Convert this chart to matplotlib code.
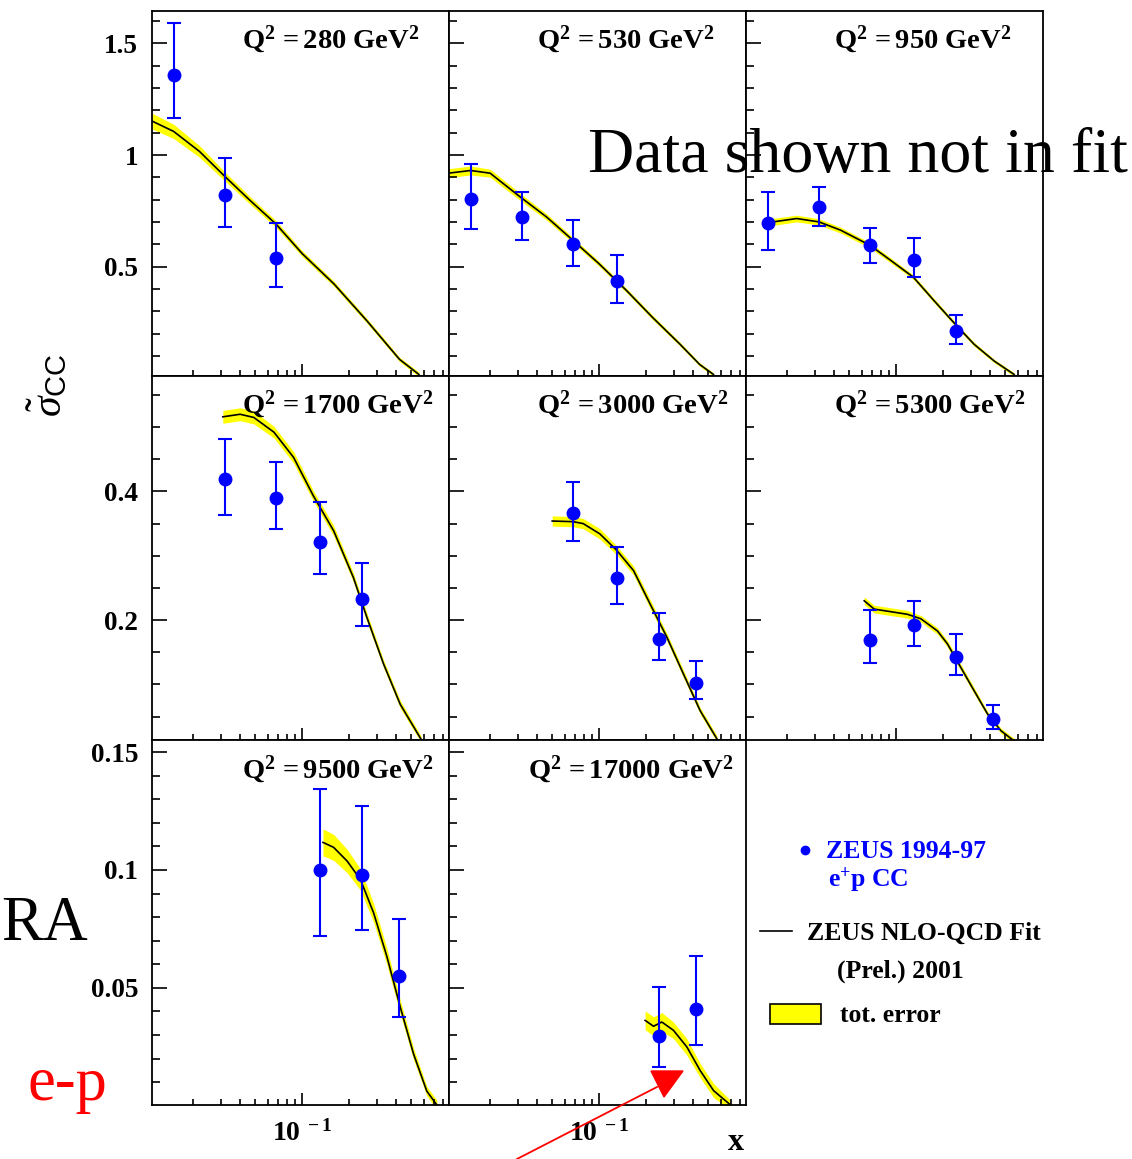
import numpy as np
import matplotlib
matplotlib.use("Agg")
import matplotlib.pyplot as plt
from matplotlib.ticker import MultipleLocator, FixedLocator, LogLocator, FuncFormatter, NullFormatter
from matplotlib.patches import Polygon, Rectangle
from matplotlib.lines import Line2D

plt.rcParams["font.family"] = ["Liberation Serif", "DejaVu Serif"]
plt.rcParams["mathtext.fontset"] = "custom"
plt.rcParams["mathtext.rm"] = "Liberation Serif"
plt.rcParams["mathtext.bf"] = "Liberation Serif:bold"
plt.rcParams["mathtext.it"] = "Liberation Serif:italic"
plt.rcParams["mathtext.sf"] = "Liberation Sans"

# ---- data: Q^2 bins ----
q2_values = [280, 530, 950, 1700, 3000, 5300, 9500, 17000]

# ZEUS 1994-97 e+p CC points (x, sigma, upper / lower error bar end)
data_x = [
    [0.015, 0.032, 0.068],
    [0.015, 0.032, 0.068, 0.13],
    [0.015, 0.032, 0.068, 0.13, 0.24],
    [0.032, 0.068, 0.13, 0.24],
    [0.068, 0.13, 0.24, 0.42],
    [0.068, 0.13, 0.24, 0.42],
    [0.13, 0.24, 0.42],
    [0.24, 0.42],
]
data_y = [
    [1.359, 0.821, 0.540],
    [0.803, 0.721, 0.600, 0.435],
    [0.696, 0.766, 0.596, 0.532, 0.213],
    [0.419, 0.390, 0.322, 0.233],
    [0.367, 0.265, 0.171, 0.102],
    [0.169, 0.192, 0.143, 0.046],
    [0.100, 0.0979, 0.0552],
    [0.0294, 0.0412],
]
data_hi = [
    [1.59, 0.986, 0.696],
    [0.961, 0.836, 0.709, 0.551],
    [0.836, 0.856, 0.674, 0.627, 0.284],
    [0.482, 0.445, 0.384, 0.288],
    [0.414, 0.314, 0.211, 0.136],
    [0.216, 0.230, 0.178, 0.068],
    [0.1345, 0.127, 0.0794],
    [0.0505, 0.0636],
]
data_lo = [
    [1.164, 0.676, 0.408],
    [0.667, 0.622, 0.504, 0.336],
    [0.577, 0.682, 0.519, 0.453, 0.153],
    [0.363, 0.342, 0.272, 0.190],
    [0.323, 0.225, 0.138, 0.077],
    [0.134, 0.160, 0.115, 0.031],
    [0.0718, 0.0747, 0.0377],
    [0.0163, 0.0256],
]

# ZEUS NLO-QCD fit curves and their total error (half width)
fit_x = [
    [0.011, 0.015, 0.022, 0.032, 0.046, 0.068, 0.10, 0.16, 0.26, 0.42, 0.56],
    [0.0108, 0.015, 0.020, 0.031, 0.046, 0.068, 0.10, 0.15, 0.22, 0.33, 0.44, 0.54],
    [0.0145, 0.023, 0.032, 0.044, 0.068, 0.0925, 0.129, 0.175, 0.239, 0.316, 0.425, 0.57],
    [0.031, 0.040, 0.049, 0.066, 0.088, 0.118, 0.159, 0.213, 0.26, 0.332, 0.425, 0.577],
    [0.050, 0.068, 0.079, 0.101, 0.130, 0.166, 0.212, 0.272, 0.347, 0.444, 0.569],
    [0.0624, 0.0723, 0.0925, 0.118, 0.144, 0.184, 0.213, 0.26, 0.316, 0.385, 0.469, 0.57],
    [0.136, 0.159, 0.194, 0.236, 0.287, 0.349, 0.425, 0.517, 0.629, 0.73],
    [0.197, 0.223, 0.252, 0.299, 0.365, 0.444, 0.541, 0.692],
]
fit_y = [
    [1.151, 1.106, 1.016, 0.904, 0.799, 0.691, 0.559, 0.423, 0.258, 0.086, 0.018],
    [0.919, 0.931, 0.919, 0.814, 0.723, 0.618, 0.513, 0.393, 0.273, 0.153, 0.063, 0.018],
    [0.696, 0.716, 0.701, 0.664, 0.596, 0.528, 0.453, 0.348, 0.243, 0.153, 0.078, 0.018],
    [0.516, 0.520, 0.515, 0.492, 0.453, 0.393, 0.339, 0.266, 0.204, 0.132, 0.069, 0.015],
    [0.354, 0.353, 0.350, 0.334, 0.308, 0.277, 0.225, 0.173, 0.116, 0.059, 0.015],
    [0.230, 0.217, 0.213, 0.209, 0.202, 0.183, 0.163, 0.126, 0.090, 0.054, 0.028, 0.012],
    [0.1117, 0.1096, 0.1038, 0.0960, 0.0818, 0.0633, 0.0419, 0.0220, 0.0062, 0.0003],
    [0.0362, 0.0337, 0.0355, 0.0320, 0.0249, 0.0149, 0.0064, 0.0004],
]
fit_err = [
    [0.035, 0.032, 0.026, 0.02, 0.017, 0.015, 0.013, 0.012, 0.011, 0.01, 0.01],
    [0.02, 0.02, 0.018, 0.016, 0.014, 0.012, 0.011, 0.01, 0.01, 0.009, 0.008, 0.008],
    [0.016, 0.015, 0.014, 0.013, 0.012, 0.011, 0.010, 0.010, 0.009, 0.009, 0.008, 0.008],
    [0.01, 0.01, 0.01, 0.009, 0.009, 0.008, 0.008, 0.007, 0.007, 0.006, 0.006, 0.005],
    [0.008, 0.008, 0.008, 0.008, 0.007, 0.007, 0.007, 0.006, 0.006, 0.005, 0.005],
    [0.006, 0.006, 0.006, 0.006, 0.005, 0.005, 0.005, 0.005, 0.005, 0.004, 0.004, 0.004],
    [0.0057, 0.0055, 0.005, 0.0045, 0.004, 0.0035, 0.003, 0.0025, 0.002, 0.002],
    [0.004, 0.004, 0.004, 0.0035, 0.0035, 0.003, 0.003, 0.002],
]

# per-row y ranges and tick steps
row_ylim = [(0.0126, 1.645), (0.013, 0.58), (0.0003, 0.155)]
row_major = [0.5, 0.2, 0.05]
row_minor = [0.1, 0.05, 0.01]
title_x = [0.303, 0.296, 0.296, 0.303, 0.296, 0.296, 0.303, 0.266]

W, H = 1132, 1159


def fx(px):
    return px / W


def fy(py):
    return 1 - py / H


fig = plt.figure(figsize=(W / 100, H / 100), dpi=100)
axes = fig.subplots(3, 3, sharex=True, sharey="row",
                    gridspec_kw=dict(left=fx(152), right=fx(1043), top=fy(11), bottom=fy(1105),
                                     hspace=0, wspace=0))

axes[0, 0].set_xscale("log")
axes[0, 0].set_xlim(0.0109, 0.873)

for r in range(3):
    axes[r, 0].set_ylim(*row_ylim[r])
    axes[r, 0].yaxis.set_major_locator(MultipleLocator(row_major[r]))
    axes[r, 0].yaxis.set_minor_locator(MultipleLocator(row_minor[r]))
    axes[r, 0].yaxis.set_major_formatter(FuncFormatter(lambda v, p: "%g" % round(v, 3)))

for i, ax in enumerate(axes.flat):
    for s in ax.spines.values():
        s.set_linewidth(1.3)
    ax.xaxis.set_major_locator(FixedLocator([0.1]))
    ax.xaxis.set_minor_locator(LogLocator(base=10, subs=np.arange(2, 10)))
    ax.xaxis.set_minor_formatter(NullFormatter())
    ax.xaxis.set_major_formatter(FuncFormatter(lambda v, p: r"$\mathbf{10^{\ -1}}$"))
    ax.tick_params(which="both", direction="in", top=False, right=False, width=1.2)
    ax.tick_params(axis="y", which="major", length=10.5, pad=10, labelsize=19.5)
    ax.tick_params(axis="y", which="minor", length=5.5)
    ax.tick_params(axis="x", which="major", length=8.5, pad=11, labelsize=20)
    ax.tick_params(axis="x", which="minor", length=4.5)
    for lab in ax.get_yticklabels():
        lab.set_fontweight("bold")

    if i >= len(q2_values):
        ax.axis("off")
        continue

    fxv = np.array(fit_x[i])
    fyv = np.array(fit_y[i])
    fev = np.array(fit_err[i])
    ax.fill_between(fxv, fyv - fev, fyv + fev, color="#ffff00", lw=0, zorder=1)
    ax.plot(fxv, fyv, color="black", lw=1.2, zorder=2, solid_joinstyle="round")

    y = np.array(data_y[i])
    yerr = [y - np.array(data_lo[i]), np.array(data_hi[i]) - y]
    ax.errorbar(data_x[i], y, yerr=yerr, fmt="o", color="#0000ff", ms=9,
                elinewidth=1.5, capsize=5, capthick=1.5, zorder=3)

    ax.text(title_x[i], 0.92, r"$\mathbf{Q^{2}\,= %d\ GeV^{2}}$" % q2_values[i],
            transform=ax.transAxes, ha="left", va="center", fontsize=20.5)

# axis labels
fig.text(fx(48), fy(385), r"$\tilde{\sigma}_{\mathsf{CC}}$", rotation=90,
         fontsize=30, ha="center", va="center")
fig.text(fx(736), fy(1150), "x", fontsize=23, fontweight="bold", ha="center", va="baseline")

# legend in the empty panel
fig.add_artist(Line2D([fx(805)], [fy(850)], marker="o", color="#0000ff", markersize=6))
fig.text(fx(826), fy(851), "ZEUS 1994-97", color="#0000ff", fontsize=18.5,
         fontweight="bold", ha="left", va="center")
fig.text(fx(828), fy(880), r"$\mathbf{e^{+}p\ CC}$", color="#0000ff", fontsize=18.5,
         ha="left", va="center")
fig.add_artist(Line2D([fx(760), fx(792)], [fy(931), fy(931)], color="black", lw=1.2))
fig.text(fx(807), fy(933), "ZEUS NLO-QCD Fit", fontsize=18.5, fontweight="bold",
         ha="left", va="center")
fig.text(fx(837), fy(971), "(Prel.) 2001", fontsize=18.5, fontweight="bold",
         ha="left", va="center")
fig.add_artist(Rectangle((fx(770), fy(1024)), fx(821) - fx(770), fy(1004) - fy(1024),
                         transform=fig.transFigure, facecolor="#ffff00",
                         edgecolor="black", lw=1.2))
fig.text(fx(840), fy(1016), "tot. error", fontsize=18.5, fontweight="bold",
         ha="left", va="center")

# slide overlays
fig.text(fx(588), fy(172), "Data shown not in fit", fontsize=46, ha="left",
         va="baseline", color="black")
fig.text(fx(1), fy(940), "RA", fontsize=45, ha="left", va="baseline", color="black")
fig.text(fx(28), fy(1100), "e-p", fontsize=45, ha="left", va="baseline", color="#ff0000")

# red arrow
fig.add_artist(Line2D([fx(517), fx(657)], [fy(1159), fy(1087)], color="#ff0000", lw=1.3))
fig.add_artist(Polygon([[fx(651), fy(1071)], [fx(683), fy(1071)], [fx(664), fy(1097)]],
                       closed=True, transform=fig.transFigure, color="#ff0000"))

fig.savefig("out.png", dpi=100)
